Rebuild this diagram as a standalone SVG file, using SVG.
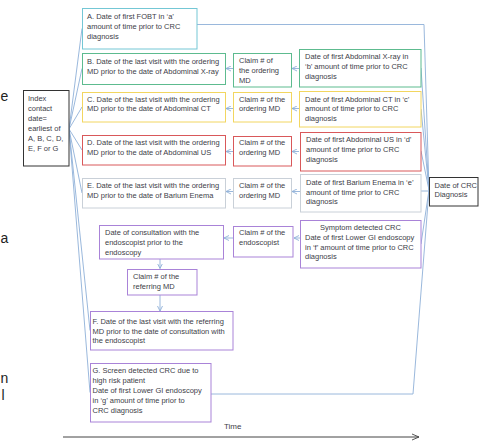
<svg xmlns="http://www.w3.org/2000/svg" width="481" height="441" viewBox="0 0 481 441">
<defs>
<style>
text{font-family:"Liberation Sans",Arial,sans-serif;font-size:7.5px;fill:#404048}
.big{font-size:14px;fill:#222}
.box{fill:#fff;stroke-width:1}
.teal{stroke:#74c7d5}
.green{stroke:#5dbb8f}
.yellow{stroke:#f2d660}
.red{stroke:#d9585a}
.gray{stroke:#c9d0d8}
.purple{stroke:#a983d8}
.black{stroke:#333}
.conn{fill:none;stroke:#8fb0d8;stroke-width:0.9}
.arr{fill:none;stroke:#8fb0d8;stroke-width:0.9;marker-end:url(#ah)}
</style>
<marker id="ah" markerWidth="6" markerHeight="6" refX="5" refY="3" orient="auto" markerUnits="userSpaceOnUse">
<path d="M0,0.5 L5,3 L0,5.5" fill="none" stroke="#8fb0d8" stroke-width="0.9"/>
</marker>
<marker id="ahk" markerWidth="8" markerHeight="8" refX="7" refY="4" orient="auto" markerUnits="userSpaceOnUse">
<path d="M0,1 L7,4 L0,7" fill="none" stroke="#444" stroke-width="0.9"/>
</marker>
</defs>
<rect width="481" height="441" fill="#fff"/>

<!-- fragments at left edge -->
<text class="big" x="0.5" y="101">e</text>
<text class="big" x="0.5" y="243">a</text>
<text class="big" x="0.5" y="383">n</text>
<text class="big" x="1.5" y="400">l</text>

<g id="connectors">
<!-- index fan -->
<line class="conn" x1="69" y1="129" x2="82" y2="28.5"/>
<line class="conn" x1="69" y1="129" x2="82" y2="68.5"/>
<line class="conn" x1="69" y1="129" x2="82" y2="107"/>
<line class="conn" x1="69" y1="129" x2="82" y2="150"/>
<line class="conn" x1="69" y1="129" x2="82" y2="193"/>
<line class="conn" x1="69" y1="129" x2="90" y2="330.5"/>
<line class="conn" x1="69" y1="129" x2="90" y2="392.5"/>
<!-- CRC fan -->
<polyline class="conn" points="197,24.5 424,24.5 429,190"/>
<line class="conn" x1="421" y1="68" x2="429" y2="190"/>
<line class="conn" x1="421" y1="109" x2="429" y2="190"/>
<line class="conn" x1="421" y1="151" x2="429" y2="190"/>
<line class="conn" x1="421" y1="191" x2="429" y2="191"/>
<line class="conn" x1="421" y1="244" x2="429" y2="190"/>
<polyline class="conn" points="211,394 413,394 429,190"/>
<!-- row arrows -->
<line class="arr" x1="299" y1="68.5" x2="292" y2="68.5"/>
<line class="arr" x1="233" y1="68.5" x2="226" y2="68.5"/>
<line class="arr" x1="299" y1="108.5" x2="292" y2="108.5"/>
<line class="arr" x1="233" y1="108.5" x2="226" y2="108.5"/>
<line class="arr" x1="299" y1="151.5" x2="292" y2="151.5"/>
<line class="arr" x1="233" y1="151.5" x2="226" y2="151.5"/>
<line class="arr" x1="300" y1="191.5" x2="292" y2="191.5"/>
<line class="arr" x1="233" y1="191.5" x2="226" y2="191.5"/>
<line class="arr" x1="300" y1="238" x2="294" y2="238"/>
<line class="arr" x1="233" y1="238" x2="224" y2="238"/>
<line class="arr" x1="160" y1="259" x2="160" y2="268.5"/>
<line class="arr" x1="160" y1="295" x2="160" y2="311"/>
<!-- time axis -->
<line x1="63" y1="437" x2="419" y2="437" stroke="#444" stroke-width="1" marker-end="url(#ahk)"/>
</g>

<g id="index">
<rect class="box black" x="23.5" y="90.5" width="45.5" height="75.5"/>
<text x="28" y="101">Index</text>
<text x="28" y="111">contact</text>
<text x="28" y="121">date=</text>
<text x="28" y="131">earliest  of</text>
<text x="28" y="141">A, B, C, D,</text>
<text x="28" y="151">E, F or G</text>
</g>

<g id="nodeA">
<rect class="box teal" x="82.5" y="8.5" width="114.5" height="40.5"/>
<text x="87" y="18.5">A. Date of first FOBT in  ‘a’</text>
<text x="87" y="28.5">amount  of time prior to CRC</text>
<text x="87" y="38.5">diagnosis</text>
</g>

<g id="nodeB">
<rect class="box green" x="82.5" y="53.5" width="143" height="31"/>
<text x="87" y="63.7">B. Date of the last visit with the ordering</text>
<text x="87" y="73.7">MD prior to the date of Abdominal X-ray</text>
</g>
<g id="claimB">
<rect class="box green" x="233.5" y="53.5" width="58" height="33.5"/>
<text x="239" y="63.4">Claim # of</text>
<text x="239" y="73.4">the ordering</text>
<text x="239" y="82.7">MD</text>
</g>
<g id="xray">
<rect class="box green" x="299.5" y="49.5" width="121.5" height="37.5"/>
<text x="305" y="59.4">Date of first Abdominal X-ray in</text>
<text x="305" y="68.7">‘b’ amount of time prior to CRC</text>
<text x="305" y="78.7">diagnosis</text>
</g>

<g id="nodeC">
<rect class="box yellow" x="82.5" y="92.5" width="143" height="29.5"/>
<text x="87" y="101.7">C. Date of the last visit with the ordering</text>
<text x="87" y="111">MD prior to the date of Abdominal CT</text>
</g>
<g id="claimC">
<rect class="box yellow" x="233.5" y="92.5" width="58" height="29.5"/>
<text x="239" y="101.7">Claim # of the</text>
<text x="239" y="111">ordering MD</text>
</g>
<g id="ct">
<rect class="box yellow" x="299.5" y="91.5" width="121.5" height="35.5"/>
<text x="305" y="101.7">Date of first Abdominal CT in ‘c’</text>
<text x="305" y="111">amount of time prior to CRC</text>
<text x="305" y="121">diagnosis</text>
</g>

<g id="nodeD">
<rect class="box red" x="82.5" y="135.5" width="143" height="29.5"/>
<text x="87" y="145">D. Date of the last visit with the ordering</text>
<text x="87" y="154.5">MD prior to the date of Abdominal US</text>
</g>
<g id="claimD">
<rect class="box red" x="233.5" y="136.5" width="58" height="29.5"/>
<text x="239" y="145.4">Claim # of the</text>
<text x="239" y="155.4">ordering MD</text>
</g>
<g id="us">
<rect class="box red" x="300.5" y="132.5" width="120.5" height="38.5"/>
<text x="306" y="142">Date of first Abdominal US in ‘d’</text>
<text x="306" y="152">amount of time prior to CRC</text>
<text x="306" y="162">diagnosis</text>
</g>

<g id="nodeE">
<rect class="box gray" x="82.5" y="178.5" width="143" height="29.5"/>
<text x="87" y="187.7">E. Date of the last visit with the ordering</text>
<text x="87" y="197.7">MD prior to the date of Barium Enema</text>
</g>
<g id="claimE">
<rect class="box gray" x="233.5" y="178.5" width="58" height="29.5"/>
<text x="239" y="187.7">Claim # of the</text>
<text x="239" y="197.7">ordering MD</text>
</g>
<g id="barium">
<rect class="box gray" x="300.5" y="174.5" width="120.5" height="37.5"/>
<text x="306" y="185">Date of first Barium Enema in ‘e’</text>
<text x="306" y="195">amount  of time prior to CRC</text>
<text x="306" y="204.4">diagnosis</text>
</g>

<g id="consult">
<rect class="box purple" x="99.5" y="225.5" width="124" height="33.5"/>
<text x="105" y="235">Date of consultation with the</text>
<text x="105" y="245.3">endoscopist prior to the</text>
<text x="105" y="255">endoscopy</text>
</g>
<g id="claimEndo">
<rect class="box purple" x="233.5" y="226.5" width="59.5" height="30.5"/>
<text x="239" y="235.4">Claim # of the</text>
<text x="239" y="245.4">endoscopist</text>
</g>
<g id="symptom">
<rect class="box purple" x="300.5" y="220.5" width="120.5" height="47.5"/>
<text x="360.5" y="230" text-anchor="middle">Symptom detected CRC</text>
<text x="305" y="240">Date of first Lower GI  endoscopy</text>
<text x="305" y="250">in ‘f’ amount of time prior to CRC</text>
<text x="305" y="259.4">diagnosis</text>
</g>

<g id="claimRef">
<rect class="box purple" x="127.5" y="269.5" width="69.5" height="25.5"/>
<text x="133" y="279.4">Claim # of the</text>
<text x="133" y="289">referring MD</text>
</g>

<g id="nodeF">
<rect class="box purple" x="90.5" y="311.5" width="142.5" height="38.5"/>
<text x="92.5" y="324.4">F.  Date of the last visit with the referring</text>
<text x="92.5" y="333.7">MD prior to the date of consultation with</text>
<text x="92.5" y="343">the endoscopist</text>
</g>

<g id="nodeG">
<rect class="box purple" x="90.5" y="363.5" width="120.5" height="58.5"/>
<text x="92.5" y="373.4">G. Screen  detected CRC  due to</text>
<text x="92.5" y="383.4">high risk patient</text>
<text x="92.5" y="393.4">Date of first Lower GI  endoscopy</text>
<text x="92.5" y="403.4">in  ‘g’ amount of time prior to</text>
<text x="92.5" y="413.4">CRC  diagnosis</text>
</g>

<g id="crc">
<rect class="box black" x="429.5" y="177.5" width="48.5" height="28.5"/>
<text x="434.5" y="187.7">Date of CRC</text>
<text x="434.5" y="197">Diagnosis</text>
</g>

<g id="timeLabel">
<text x="224" y="429" style="font-size:8px">Time</text>
</g>
</svg>
